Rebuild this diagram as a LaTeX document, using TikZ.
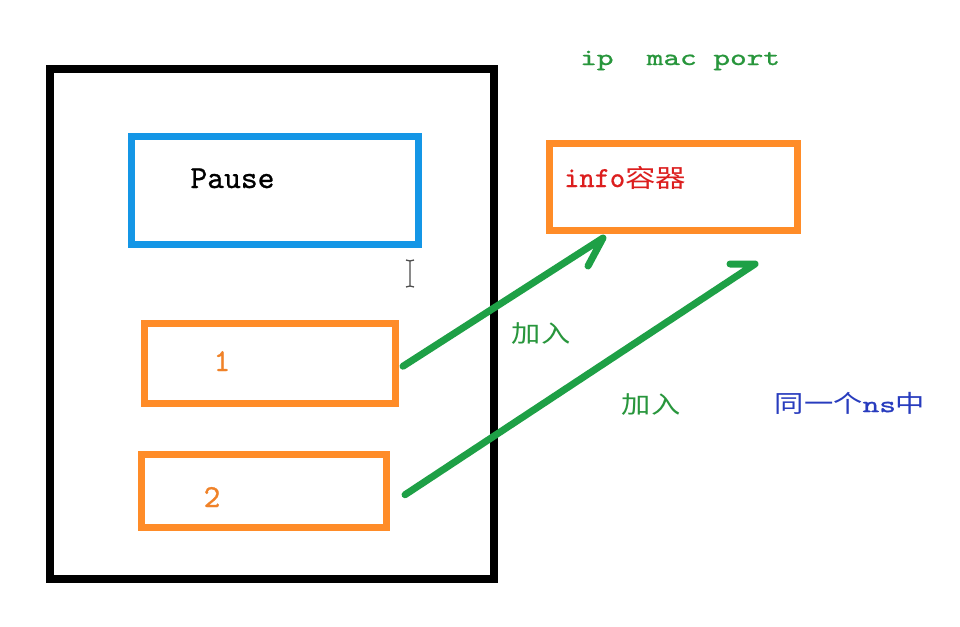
\documentclass[tikz,border=0pt]{standalone}
\usepackage{fontspec}
\newfontfamily\monow[FakeStretch=1.35,FakeBold=1]{lmmono10-regular.otf}
\newfontfamily\monon[FakeBold=0.8]{lmmono10-regular.otf}
\newfontfamily\cjk[FakeStretch=1.22]{Noto Sans CJK SC}
\definecolor{boxorange}{RGB}{255,140,40}
\definecolor{boxblue}{RGB}{20,150,230}
\definecolor{arrgreen}{RGB}{30,160,70}
\definecolor{txtgreen}{RGB}{40,150,60}
\definecolor{txtred}{RGB}{220,30,30}
\definecolor{txtblue}{RGB}{40,60,190}
\definecolor{txtorange}{RGB}{240,130,40}
\tikzset{
  box/.style={draw, rectangle, inner sep=0pt, line width=7pt},
  outerbox/.style={draw=black, rectangle, inner sep=0pt, line width=8pt},
  arrowline/.style={draw=arrgreen, line width=7pt, line cap=round, line join=round},
  cjktext/.style={font=\cjk\fontsize{24}{24}\selectfont, inner sep=0pt},
}
\begin{document}
\begin{tikzpicture}[x=1pt, y=-1pt]
\fill[white] (0,0) rectangle (960,626);
\useasboundingbox (0,0) rectangle (960,626);

% boxes
\node[outerbox, minimum width=444pt, minimum height=510.5pt] (outer) at (272,323.75) {};
\node[box, draw=boxblue, minimum width=287pt, minimum height=108pt] (pause) at (275,190.5) {};
\node[box, draw=boxorange, minimum width=251pt, minimum height=79.5pt] (b1) at (270,363.25) {};
\node[box, draw=boxorange, minimum width=245pt, minimum height=72.5pt] (b2) at (264,490.75) {};
\node[box, draw=boxorange, minimum width=248pt, minimum height=87.5pt] (info) at (673.5,186.75) {};

% texts
\node[anchor=base, inner sep=0pt, font=\monon\fontsize{32}{32}\selectfont] (tpause) at (232.5,188) {Pause};
\node[anchor=base, inner sep=0pt, text=txtorange, font=\monon\fontsize{32}{32}\selectfont] (t1) at (222,371) {1};
\node[anchor=base, inner sep=0pt, text=txtorange, font=\monon\fontsize{32}{32}\selectfont] (t2) at (212,507) {2};
\node[anchor=base west, inner sep=0pt, text=txtred, font=\monon\fontsize{29}{29}\selectfont] (tinfo) at (564,187) {info{\cjk\fontsize{25}{25}\selectfont 容器}};
\node[anchor=base west, inner sep=0pt, text=txtgreen, font=\monow\fontsize{23.5}{23.5}\selectfont] (tip) at (580,65) {ip~~mac~port};
\node[cjktext, text=txtgreen] (join1) at (541,334) {加入};
\node[cjktext, text=txtgreen] (join2) at (651,405) {加入};
\node[cjktext, text=txtblue] (ns) at (850,403) {同一个{\monow\fontsize{23.5}{23.5}\selectfont ns}中};

% arrows
\coordinate (tip1) at (603,238);
\coordinate (barb1) at (588,266);
\coordinate (tip2) at (755,264);
\coordinate (barb2) at (730,264);
\draw[arrowline] (b1.east) ++(4,3) -- (tip1) -- (barb1);
\draw[arrowline] (b2.east) ++(15,4) -- (tip2) -- (barb2);

% text cursor
\draw[line width=1.3pt, black!70] (410,261) -- (410,286)
  (406,260) -- (410,261) -- (414,260)
  (406,287) -- (410,286) -- (414,287);
\end{tikzpicture}
\end{document}
